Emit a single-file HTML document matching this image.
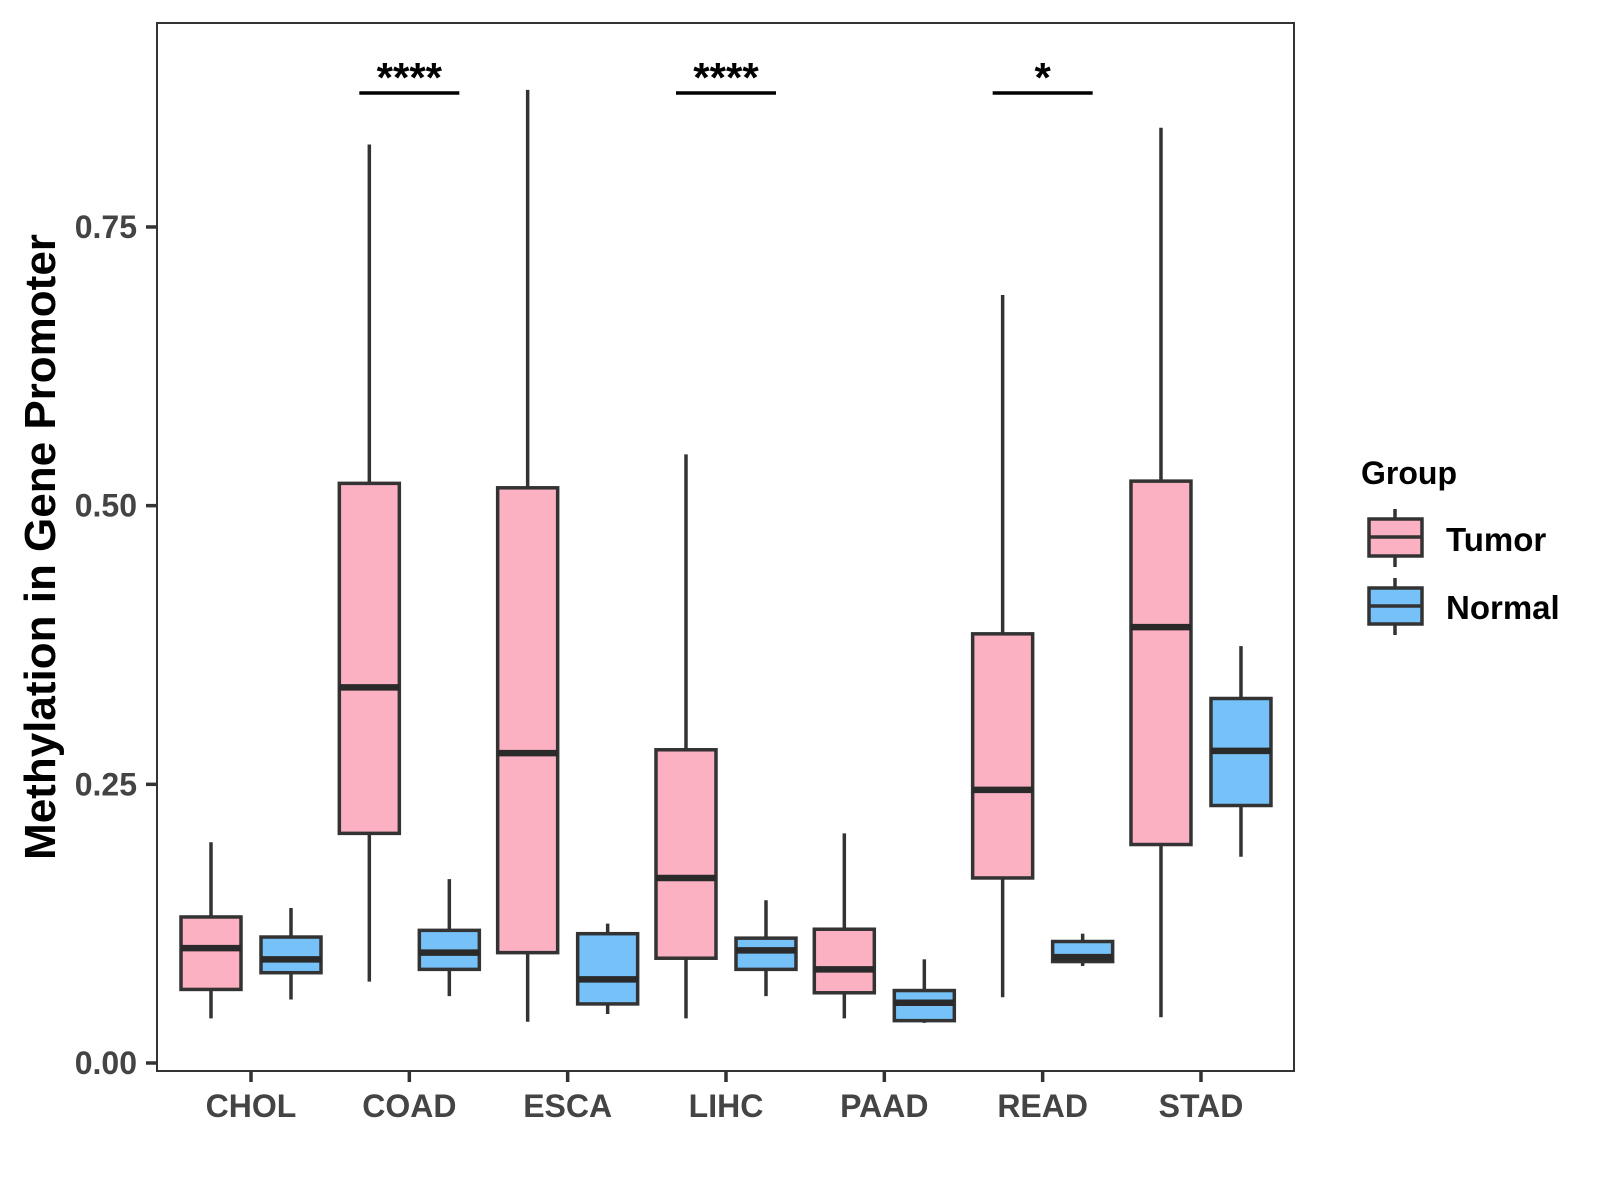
<!DOCTYPE html>
<html><head><meta charset="utf-8"><style>body{margin:0;background:#fff}svg{display:block}text{font-family:"Liberation Sans",Arial,sans-serif;font-weight:bold}</style></head>
<body>
<svg id="chart" width="1600" height="1200" xmlns="http://www.w3.org/2000/svg">
<rect x="157" y="23" width="1137" height="1048" fill="#fff" stroke="#333" stroke-width="2"/>
<g id="marks"></g>
<text transform="translate(55,547) rotate(-90)" text-anchor="middle" font-size="44" fill="#000">Methylation in Gene Promoter</text>
<g>
<text x="1361" y="484" font-size="32" fill="#000">Group</text>
<g>
<line x1="1395" y1="509" x2="1395" y2="567" stroke="#333" stroke-width="3.5"/>
<rect x="1369" y="519" width="53" height="37" fill="#FCB1C3" stroke="#333" stroke-width="3.5"/>
<line x1="1369" y1="537" x2="1422" y2="537" stroke="#333" stroke-width="3.5"/>
<text x="1446" y="551" font-size="33" fill="#000">Tumor</text></g>
<g>
<line x1="1395" y1="578" x2="1395" y2="635" stroke="#333" stroke-width="3.5"/>
<rect x="1369" y="588" width="53" height="36" fill="#76C1F8" stroke="#333" stroke-width="3.5"/>
<line x1="1369" y1="606" x2="1422" y2="606" stroke="#333" stroke-width="3.5"/>
<text x="1446" y="619" font-size="33" fill="#000">Normal</text></g>
</g>
</svg>
<script>
const categories=["CHOL","COAD","ESCA","LIHC","PAAD","READ","STAD"];
const tumorLow=[0.040,0.073,0.037,0.040,0.040,0.059,0.041];
const tumorQ1=[0.066,0.206,0.099,0.094,0.063,0.166,0.196];
const tumorMed=[0.103,0.337,0.278,0.166,0.084,0.245,0.391];
const tumorQ3=[0.131,0.520,0.516,0.281,0.120,0.385,0.522];
const tumorHigh=[0.198,0.824,0.873,0.546,0.206,0.689,0.839];
const normalLow=[0.057,0.060,0.044,0.060,0.036,0.087,0.185];
const normalQ1=[0.081,0.084,0.053,0.084,0.038,0.091,0.231];
const normalMed=[0.093,0.099,0.075,0.101,0.054,0.095,0.280];
const normalQ3=[0.113,0.119,0.116,0.112,0.065,0.109,0.327];
const normalHigh=[0.139,0.165,0.125,0.146,0.093,0.116,0.374];
const yTicks=[0,0.25,0.5,0.75];
const yTickLabels=["0.00","0.25","0.50","0.75"];
const sigCats=["COAD","LIHC","READ"];
const sigLabels=["****","****","*"];

const NS="http://www.w3.org/2000/svg";
const g=document.getElementById('marks');
const y=v=>1063-v*1114.7;
const x=i=>251+i*158.33;
function mk(tag,attrs,txt){const e=document.createElementNS(NS,tag);for(const k in attrs)e.setAttribute(k,attrs[k]);if(txt!==undefined)e.textContent=txt;g.appendChild(e);return e;}
yTicks.forEach((t,i)=>{
  const l=mk('line',{x1:146,x2:157,y1:y(t),y2:y(t),stroke:'#333','stroke-width':3.5});
  
  
  const tx=mk('text',{x:137,y:y(t)+11,'text-anchor':'end','font-size':32,fill:'#444'},yTickLabels[i]);
  
  
});
categories.forEach((c,i)=>{
  const l=mk('line',{x1:x(i),x2:x(i),y1:1071,y2:1082,stroke:'#333','stroke-width':3.5});
  
  
  const tx=mk('text',{x:x(i),y:1117,'text-anchor':'middle','font-size':32,fill:'#444'},c);
  
  
  [[-40,'#FCB1C3',tumorLow,tumorQ1,tumorMed,tumorQ3,tumorHigh,'tumor'],[40,'#76C1F8',normalLow,normalQ1,normalMed,normalQ3,normalHigh,'normal']].forEach(s=>{
    const cx=x(i)+s[0],lo=s[2][i],q1=s[3][i],md=s[4][i],q3=s[5][i],hi=s[6][i];
    const w=mk('line',{x1:cx,x2:cx,y1:y(hi),y2:y(lo),stroke:'#333','stroke-width':3.5});
    
    
    const b=mk('rect',{x:cx-30,y:y(q3),width:60,height:y(q1)-y(q3),fill:s[1],stroke:'#333','stroke-width':3.5});
    
    
    const m=mk('line',{x1:cx-30,x2:cx+30,y1:y(md),y2:y(md),stroke:'#2a2a2a','stroke-width':6.5});
    
    
  });
});
sigCats.forEach((c,j)=>{
  const i=categories.indexOf(c);
  const l=mk('line',{x1:x(i)-50,x2:x(i)+50,y1:93,y2:93,stroke:'#000','stroke-width':3.5});
  
  
  const t=mk('text',{x:x(i),y:92,'text-anchor':'middle','font-size':42,fill:'#000'},sigLabels[j]);
  
  
});
</script>
</body></html>
